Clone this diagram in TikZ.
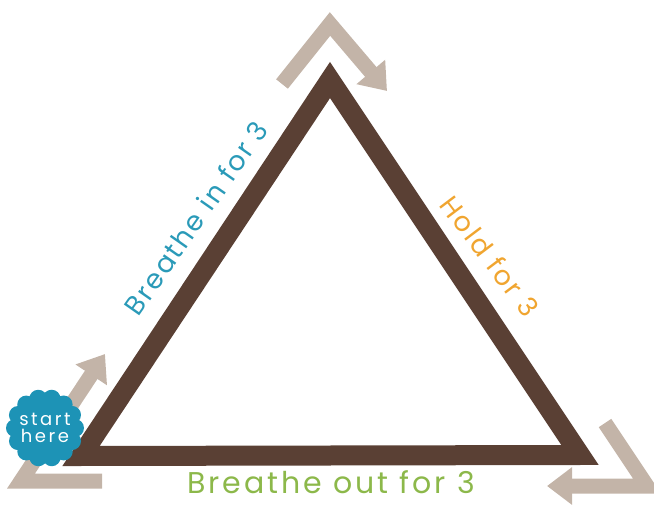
\documentclass[tikz,border=0pt]{standalone}
\usepackage{fontspec}
\setmainfont{Poppins}
\usetikzlibrary{arrows.meta}
\definecolor{trunkbrown}{HTML}{5A4034}
\definecolor{cycletaupe}{HTML}{C3B4A8}
\definecolor{inteal}{HTML}{2A9AB8}
\definecolor{holdorange}{HTML}{F0A530}
\definecolor{outgreen}{HTML}{8CB84A}
\definecolor{blobblue}{HTML}{1D93B6}

\begin{document}
\begin{tikzpicture}[x=1pt, y=-1pt,
  every node/.style={inner sep=0pt},
  cyc/.style={draw=cycletaupe, line width=15pt, line join=miter,
              -{Triangle[length=25pt, width=36pt]}},
  lbl/.style={font=\fontsize{27}{30}\selectfont\addfontfeature{LetterSpace=8}},
  biglbl/.style={font=\fontsize{30}{34}\selectfont\addfontfeature{LetterSpace=10}}
]
\useasboundingbox (0,0) rectangle (654,505);

%% triangle
\coordinate (apex) at (330,80);
\coordinate (bl)   at (81,456);
\coordinate (br)   at (580,455);
\draw[trunkbrown, line width=20pt, line join=miter] (apex) -- (bl) -- (br) -- cycle;

%% cycle arrows
\coordinate (topA) at (282,84);
\coordinate (topB) at (330,24);
\coordinate (topC) at (387,91);
\draw[cyc] (topA) -- (topB) -- (topC);

\coordinate (rgtA) at (605,423);
\coordinate (rgtB) at (647,486);
\coordinate (rgtC) at (547,486);
\draw[cyc] (rgtA) -- (rgtB) -- (rgtC);

\coordinate (lftA) at (102,481);
\coordinate (lftB) at (21,481);
\coordinate (lftC) at (105,354);
\draw[cyc] (lftA) -- (lftB) -- (lftC);

%% labels
\node[biglbl, text=outgreen] (outtxt) at (331,482) {Breathe out for 3};
\node[lbl, text=inteal, rotate=55] (intxt) at (196,218) {Breathe in for 3};
\node[lbl, text=holdorange, rotate=-53] (holdtxt) at (490,256) {Hold for 3};

%% start badge
\node[circle, fill=blobblue, minimum size=62pt] (blob) at (45,428) {};
\foreach \a in {0,25.7,...,335}
  \fill[blobblue] (blob.center) ++(\a:30) circle (9);
\node[text=white, align=center, font=\fontsize{18}{17}\selectfont\addfontfeature{LetterSpace=14}]
  (blobtxt) at (blob.center) {start\\here};

\end{tikzpicture}
\end{document}
